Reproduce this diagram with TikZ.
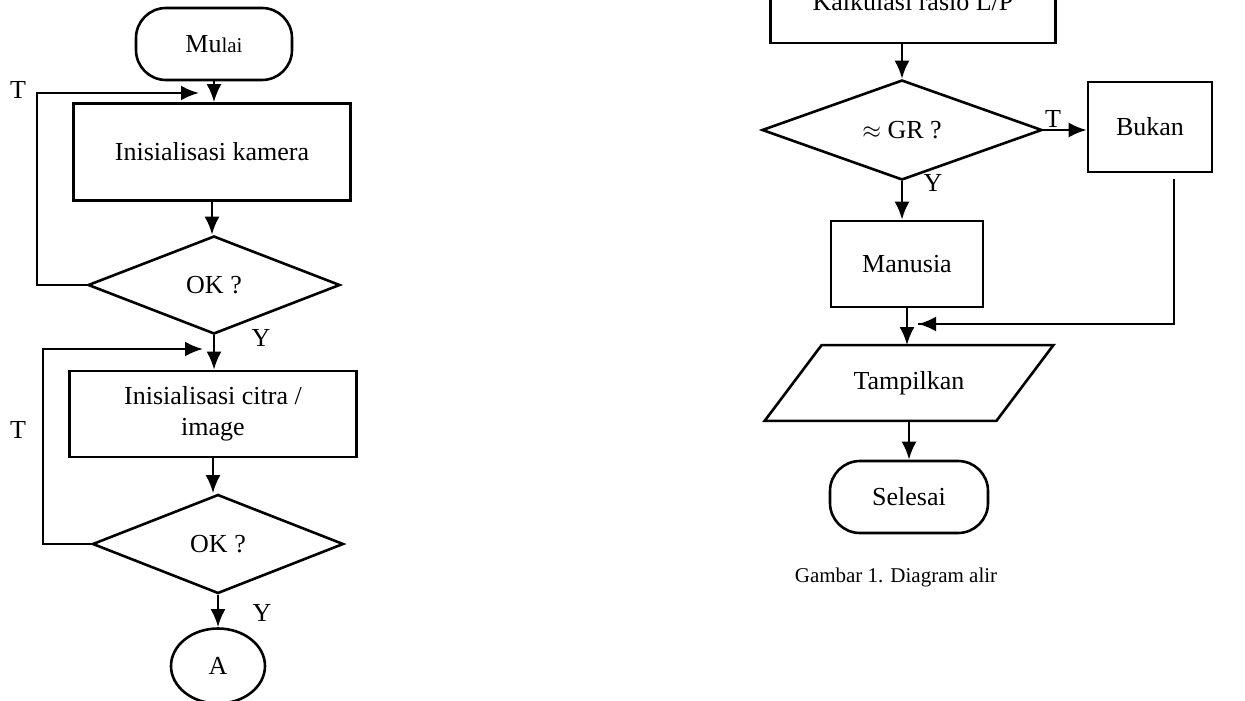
\documentclass[tikz,border=0pt]{standalone}
\usepackage{fontspec}
\setmainfont{Liberation Serif}
\usepackage{tikz}
\usetikzlibrary{shapes.geometric, shapes.misc, positioning, arrows.meta}

\tikzset{
  proses/.style={draw, line width=1.3pt, rectangle, align=center, inner sep=2pt},
  keputusan/.style={draw, line width=1.3pt, diamond, inner sep=0pt},
  terminal/.style={draw, line width=1.3pt, rectangle, rounded corners=15pt},
  io/.style={rectangle, inner sep=0pt},
  konektor/.style={draw, line width=1.3pt, ellipse, inner sep=0pt},
  lbl/.style={inner sep=0pt},
  panah/.style={line width=1.3pt, -{Latex[length=9pt,width=7.5pt]}},
  garis/.style={line width=1.3pt}
}

\begin{document}
\begin{tikzpicture}[x=0.5pt, y=-0.5pt, font=\fontsize{13}{15.5}\selectfont]
    \useasboundingbox (0,0) rectangle (1245,700);
    \clip (0,0) rectangle (1245,700);

    % kolom kiri
    \node [terminal, minimum width=78pt, minimum height=36pt] (mulai) at (214,44)
    {Mu{\fontsize{10.5}{12}\selectfont lai}};%
    \node [proses, minimum width=138.5pt, minimum height=48.5pt] (kamera) at (212,152)
    {Inisialisasi kamera};%
    \node [keputusan, minimum width=126pt, minimum height=49pt] (ok1) at (214,285)
    {OK ?};%
    \node [proses, minimum width=143.5pt, minimum height=43pt] (citra) at (213,414)
    {Inisialisasi citra /\\ image};%
    \node [keputusan, minimum width=125.5pt, minimum height=49.5pt] (ok2) at (218,544)
    {OK ?};%
    \node [konektor, minimum width=47pt, minimum height=37.5pt] (A) at (218,666) {A};%

    \coordinate (loop1) at (37,93);%
    \coordinate (in1) at (199,93);%
    \coordinate (loop2) at (43,349);%
    \coordinate (in2) at (203,349);%

    \node [lbl] (T1) at (18,90) {T};%
    \node [lbl] (Y1) at (261,338) {Y};%
    \node [lbl] (T2) at (18,430) {T};%
    \node [lbl] (Y2) at (262,613) {Y};%

    % kolom kanan
    \node [proses, minimum width=142.5pt, minimum height=41pt] (kalkulasi) at (913,2)
    {Kalkulasi rasio L/P};%
    \node [keputusan, minimum width=140pt, minimum height=50pt] (gr) at (902,130)
    {$\approx$ GR ?};%
    \node [proses, minimum width=62pt, minimum height=45pt] (bukan) at (1150,127)
    {Bukan};%
    \node [proses, minimum width=76pt, minimum height=43pt] (manusia) at (907,264)
    {Manusia};%
    \node [io, minimum width=87pt, minimum height=37.5pt] (tampil) at (909,383)
    {Tampilkan};%
    \draw [garis] (tampil.north west) -- ([xshift=28.5pt]tampil.north east)
    -- (tampil.south east) -- ([xshift=-28.5pt]tampil.south west) -- cycle;%
    \node [terminal, minimum width=79pt, minimum height=36pt] (selesai) at (909,497)
    {Selesai};%
    \node [lbl, font=\fontsize{10.5}{12}\selectfont] (judul) at (896,577)
    {Gambar 1. Diagram alir};%

    \coordinate (gabung) at (918,324);%

    \node [lbl] (T3) at (1053,119) {T};%
    \node [lbl] (Y3) at (933,183) {Y};%

    % panah kiri
    \draw [panah] (mulai.south) -- (mulai.south |- kamera.north);%
    \draw [panah] (kamera.south) -- (kamera.south |- ok1.north);%
    \draw [panah] (ok1.west) -| (loop1) -- (in1);%
    \draw [panah] (ok1.south) -- (ok1.south |- citra.north);%
    \draw [panah] (citra.south) -- (citra.south |- ok2.north);%
    \draw [panah] (ok2.west) -| (loop2) -- (in2);%
    \draw [panah] (ok2.south) -- (A.north);%

    % panah kanan
    \draw [panah] (kalkulasi.south -| gr.north) -- (gr.north);%
    \draw [panah] (gr.east) -- (bukan.west |- gr.east);%
    \draw [panah] (gr.south) -- (gr.south |- manusia.north);%
    \draw [garis] ([xshift=12pt, yshift=-3pt]bukan.south) |- (gabung);%
    \draw [panah] ([xshift=12pt]bukan.south |- gabung) -- (gabung);%
    \draw [panah] (manusia.south) -- (manusia.south |- tampil.north);%
    \draw [panah] (tampil.south) -- (tampil.south |- selesai.north);%
\end{tikzpicture}
\end{document}
